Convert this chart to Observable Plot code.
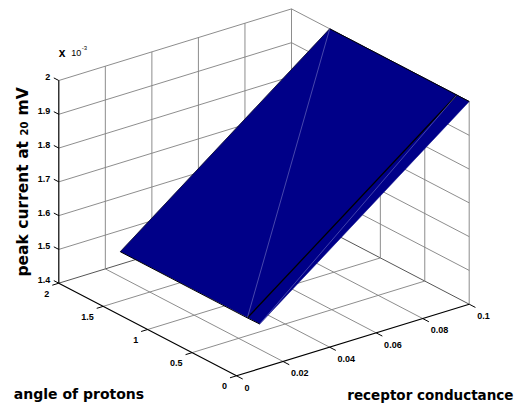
<!DOCTYPE html>
<html><head><meta charset="utf-8">
<style>html,body{margin:0;padding:0;background:#fff}svg{display:block}</style>
<script src="https://cdn.jsdelivr.net/npm/d3@7"></script>
<script src="https://cdn.jsdelivr.net/npm/@observablehq/plot@0.6"></script>
</head><body><div id="c"></div>
<script>
// data
const conductanceTicks = [0, 0.02, 0.04, 0.06, 0.08, 0.1];
const angleTicks = [0, 0.5, 1, 1.5, 2];
const peakTicks = [1.4, 1.5, 1.6, 1.7, 1.8, 1.9, 2];
const conductanceLabels = ["0", "0.02", "0.04", "0.06", "0.08", "0.1"];
const angleLabels = ["0", "0.5", "1", "1.5", "2"];
const peakLabels = ["1.4", "1.5", "1.6", "1.7", "1.8", "1.9", "2"];
const surfaceAngles = [0, 0.14, 1.57];
const surfaceConductance = [0.01, 0.1];
const surfacePeakLow = [1.532, 1.531, 1.531];
const surfacePeakHigh = [2, 2, 2];

// view of the 3D box
const view = ([g, a, z]) => [
  236 + g / 0.1 * 232.7 - a / 2 * 177.7,
  375.3 - g / 0.1 * 71.6 - a / 2 * 92.6 - (z - 1.4) / 0.6 * 202.7
];
const X = p => view(p)[0], Y = p => view(p)[1];
const gMax = 0.1, aMax = 2, zMin = 1.4, zMax = 2;

const seg = (data, o) => Plot.line(data, {x: X, y: Y, curve: "linear", strokeLinecap:"butt", ...o});
const grey = {stroke: "#808080", strokeWidth: 0.9};
const dark = {stroke: "#555", strokeWidth: 1};

const marks = [];
// walls
for (const z of peakTicks) {
  const o = z === zMin ? dark : grey;
  marks.push(seg([[0,aMax,z],[gMax,aMax,z],[gMax,0,z]], o));
}
for (const g of conductanceTicks.slice(1)) marks.push(seg([[g,aMax,zMin],[g,aMax,zMax]], grey));
for (const a of angleTicks.slice(0,-1)) marks.push(seg([[gMax,a,zMin],[gMax,a,zMax]], grey));
// floor
for (const g of conductanceTicks.slice(1,-1)) marks.push(seg([[g,0,zMin],[g,aMax,zMin]], grey));
for (const a of angleTicks.slice(1,-1)) marks.push(seg([[0,a,zMin],[gMax,a,zMin]], grey));

// surface
const low = i => [surfaceConductance[0], surfaceAngles[i], surfacePeakLow[i]];
const high = i => [surfaceConductance[1], surfaceAngles[i], surfacePeakHigh[i]];
const blue = "#000088";
marks.push(Plot.line([low(0),high(0),high(2),low(2)], {x:X, y:Y, fill:blue, stroke:blue, strokeWidth:0.5}));
marks.push(seg([low(1),high(1)], {stroke:"#000", strokeWidth:1.3}));
marks.push(seg([low(1),high(2)], {stroke:"#b4b4e4", strokeWidth:0.4}));
marks.push(seg([low(0),high(1)], {stroke:"#6f6fc4", strokeWidth:0.6}));
marks.push(seg([low(2),low(1),low(0)], {stroke:"#000", strokeWidth:1}));
marks.push(seg([high(2),high(0)], {stroke:"#000", strokeWidth:1}));
marks.push(seg([low(2),high(2)], {stroke:"#000", strokeWidth:0.6}));

// box axes
marks.push(seg([[0,aMax,zMin],[0,aMax,zMax]], {stroke:"#000", strokeWidth:1.2}));
marks.push(seg([[0,aMax,zMin],[0,0,zMin],[gMax,0,zMin]], {stroke:"#000", strokeWidth:1.2}));
// ticks
for (const z of peakTicks) marks.push(seg([[0,aMax,z],[0,aMax+0.056,z]], {stroke:"#000", strokeWidth:1}));
for (const g of conductanceTicks) marks.push(seg([[g,0,zMin],[g,-0.07,zMin]], {stroke:"#000", strokeWidth:1}));
for (const a of angleTicks) marks.push(seg([[0,a,zMin],[-0.0028,a,zMin]], {stroke:"#000", strokeWidth:1}));

// labels
const font = {fontFamily:"Liberation Sans", fontWeight:"bold", fill:"#000"};
const titleFont = {fontFamily:"DejaVu Sans", fontWeight:"bold", fill:"#000"};
marks.push(Plot.text(peakTicks.map(z=>[0,aMax,z]), {x:X, y:Y, text:(d,i)=>peakLabels[i], textAnchor:"end", dx:-8.5, dy:-3, fontSize:9, ...font}));
marks.push(Plot.text(angleTicks.map(a=>[0,a,zMin]), {x:X, y:Y, text:(d,i)=>angleLabels[i], textAnchor:"end", dx:-9.5, dy:10.5, fontSize:9, ...font}));
marks.push(Plot.text(conductanceTicks.map(g=>[g,0,zMin]), {x:X, y:Y, text:(d,i)=>conductanceLabels[i], textAnchor:"start", dx:8, dy:12, fontSize:9, ...font}));
const exp = [[0,aMax,zMax]];
marks.push(Plot.text(exp, {x:X, y:Y, text:()=>"x", textAnchor:"start", dx:0, dy:-27, fontSize:12, ...font}));
marks.push(Plot.text(exp, {x:X, y:Y, text:()=>"10", textAnchor:"start", dx:12.5, dy:-27, fontSize:9, fontFamily:"Liberation Sans", fill:"#000"}));
marks.push(Plot.text(exp, {x:X, y:Y, text:()=>"-3", textAnchor:"start", dx:23, dy:-32, fontSize:6, fontFamily:"Liberation Sans", fill:"#000"}));

// axis titles
const anchorLeft = [[0,aMax,zMin]];
marks.push(Plot.text(anchorLeft, {x:X, y:Y, text:()=>"peak current at", rotate:-90, textAnchor:"start", lineAnchor:"bottom", dx:-31, dy:-6.7, fontSize:15.5, ...titleFont}));
marks.push(Plot.text(anchorLeft, {x:X, y:Y, text:()=>"20", rotate:-90, textAnchor:"start", lineAnchor:"bottom", dx:-31, dy:-147.7, fontSize:10, ...titleFont}));
marks.push(Plot.text(anchorLeft, {x:X, y:Y, text:()=>"mV", rotate:-90, textAnchor:"start", lineAnchor:"bottom", dx:-31, dy:-167.7, fontSize:15.5, ...titleFont}));
marks.push(Plot.text(anchorLeft, {x:X, y:Y, text:()=>"angle of protons", textAnchor:"start", dx:-45, dy:111, fontSize:14, ...titleFont}));
marks.push(Plot.text([[gMax,0,zMin]], {x:X, y:Y, text:()=>"receptor conductance", textAnchor:"end", dx:44.3, dy:91, fontSize:13.5, ...titleFont}));

const chart = Plot.plot({
  width:522, height:405, marginTop:0, marginRight:0, marginBottom:0, marginLeft:0,
  x:{axis:null, domain:[0,522], range:[0,522]},
  y:{axis:null, domain:[0,405], range:[0,405]},
  style:{background:"#fff", overflow:"visible"},
  marks
});
document.getElementById("c").append(chart);
</script>
</body></html>
